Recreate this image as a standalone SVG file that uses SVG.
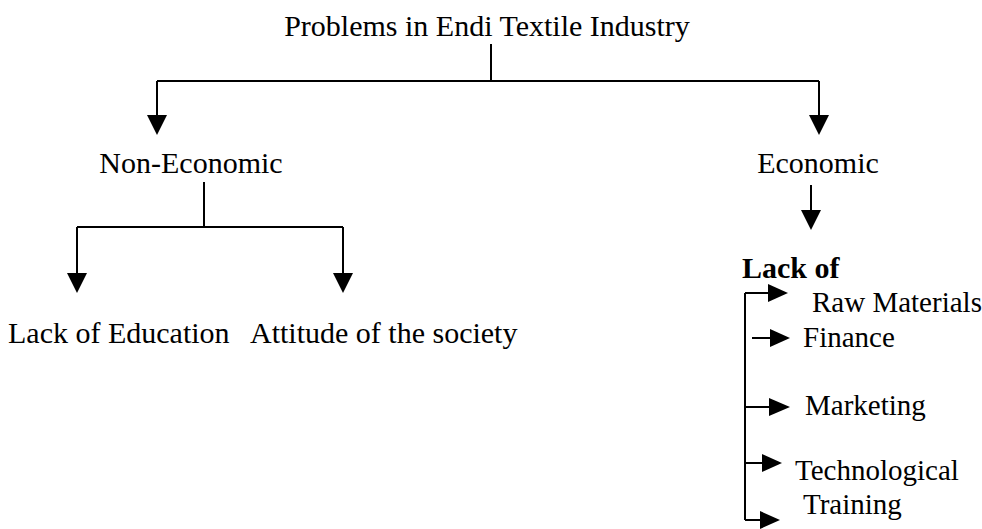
<svg xmlns="http://www.w3.org/2000/svg" width="982" height="529" viewBox="0 0 982 529">
<style>
  text { font-family: "Liberation Serif", "Times New Roman", serif; fill: #000; }
  .t30 { font-size: 30px; }
  .t29 { font-size: 29px; }
  .b { font-weight: bold; }
  .ln { stroke: #000; stroke-width: 2; fill: none; }
  .hd { fill: #000; }
</style>
<rect width="982" height="529" fill="#fff"/>
<g id="connectors">
  <path class="ln" d="M491,44 V81 M157,81 H819 M157,81 V116 M819,81 V116"/>
  <polygon class="hd" points="147,115 167,115 157,135"/>
  <polygon class="hd" points="809,115 829,115 819,135"/>
  <path class="ln" d="M204,182 V227 M77,227 H343 M77,227 V274 M343,227 V274"/>
  <polygon class="hd" points="67,273 87,273 77,293"/>
  <polygon class="hd" points="333,273 353,273 343,293"/>
  <path class="ln" d="M811,185 V211"/>
  <polygon class="hd" points="801,210 821,210 811,230"/>
  <path class="ln" d="M745,293 V520 M745,293 H769 M752,338 H771 M745,407 H770 M745,463 H763 M745,520 H761"/>
  <polygon class="hd" points="768,284 788,293 768,302"/>
  <polygon class="hd" points="770,329 790,338 770,347"/>
  <polygon class="hd" points="769,398 790,407 769,416"/>
  <polygon class="hd" points="762,454 782,463 762,472"/>
  <polygon class="hd" points="760,511 780,520 760,529"/>
</g>
<g id="title"><text class="t30" x="487" y="36" text-anchor="middle">Problems in Endi Textile Industry</text></g>
<g id="non-economic"><text class="t30" x="191" y="173" text-anchor="middle">Non-Economic</text></g>
<g id="economic"><text class="t30" x="818" y="173" text-anchor="middle">Economic</text></g>
<g id="lack-of-education"><text class="t30" x="8" y="343">Lack of Education</text></g>
<g id="attitude"><text class="t30" x="250" y="343">Attitude of the society</text></g>
<g id="lack-of"><text class="t30 b" x="742" y="278">Lack of</text></g>
<g id="raw-materials"><text class="t29" x="812" y="312">Raw Materials</text></g>
<g id="finance"><text class="t29" x="803" y="347">Finance</text></g>
<g id="marketing"><text class="t29" x="805" y="415">Marketing</text></g>
<g id="technological-training"><text class="t29" x="795" y="480">Technological</text><text class="t29" x="803" y="514">Training</text></g>
</svg>
